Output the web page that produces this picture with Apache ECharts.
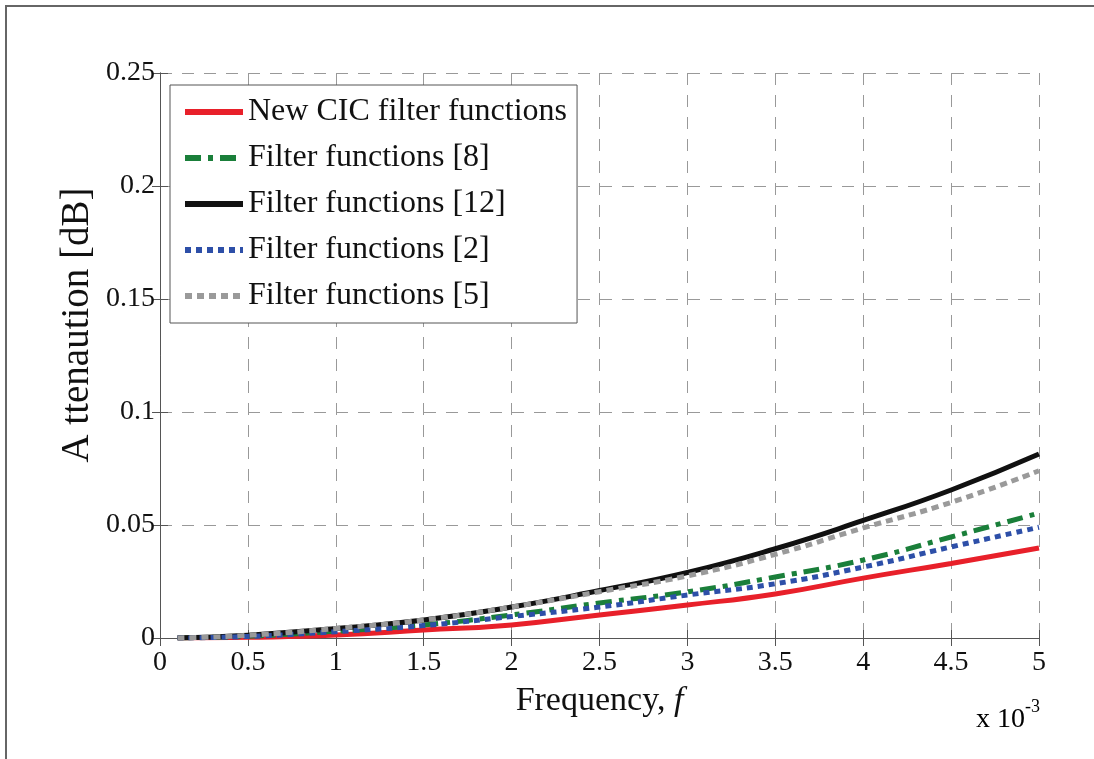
<!DOCTYPE html>
<html>
<head>
<meta charset="utf-8">
<script src="https://cdn.jsdelivr.net/npm/echarts@6/dist/echarts.min.js"></script>
<style>
  html, body { margin: 0; padding: 0; background: #fff; }
  #chart { width: 1094px; height: 759px; }
</style>
</head>
<body>
<div id="chart"></div>
<script>
// frequency in units of 1e-3
var freq = [0.1, 0.5, 1, 1.5, 2, 2.5, 3, 3.5, 4, 4.5, 5];
var newCic = [0, 0.0003, 0.0013, 0.0035, 0.0058, 0.0102, 0.0146, 0.0195, 0.0265, 0.033, 0.0398];
var ref8 = [0, 0.0008, 0.003, 0.0058, 0.0102, 0.0155, 0.0204, 0.027, 0.0345, 0.0447, 0.0553];
var ref12 = [0, 0.0012, 0.0042, 0.008, 0.0137, 0.021, 0.029, 0.0395, 0.052, 0.0655, 0.0814];
var ref2 = [0, 0.0007, 0.0028, 0.0055, 0.0095, 0.0137, 0.019, 0.024, 0.0314, 0.0403, 0.049];
var ref5 = [0, 0.0012, 0.0042, 0.008, 0.0137, 0.0205, 0.0275, 0.037, 0.0487, 0.06, 0.074];

function pairs(ys) {
  return freq.map(function (f, i) { return [f, ys[i]]; });
}

var font = 'Liberation Serif, Times New Roman, serif';
var chart = echarts.init(document.getElementById('chart'));

function mkLine(name, ys, color, dash) {
  return {
    name: name,
    type: 'line',
    data: pairs(ys),
    smooth: true,
    symbol: 'none',
    lineStyle: { color: color, width: 5, type: dash },
    itemStyle: { color: color }
  };
}

chart.setOption({
  animation: false,
  textStyle: { fontFamily: font },
  grid: { left: 160, right: 55, top: 73, bottom: 121 },
  legend: {
    left: 170,
    top: 85,
    orient: 'vertical',
    itemWidth: 58,
    itemHeight: 14,
    itemGap: 14,
    padding: [11, 10, 11, 12],
    borderColor: '#555',
    borderWidth: 1,
    backgroundColor: '#fff',
    itemStyle: { opacity: 0 },
    lineStyle: { width: 6 },
    textStyle: { fontFamily: font, fontSize: 32, color: '#111' },
    data: ['New CIC filter functions', 'Filter functions [8]', 'Filter functions [12]', 'Filter functions [2]', 'Filter functions [5]']
  },
  xAxis: [{
    type: 'value',
    min: 0, max: 5, interval: 0.5,
    name: '{n|Frequency, }{i|f}',
    nameLocation: 'middle',
    nameGap: 46,
    nameTextStyle: {
      rich: {
        n: { fontFamily: font, fontSize: 34, color: '#111' },
        i: { fontFamily: font, fontSize: 34, fontStyle: 'italic', color: '#111' }
      }
    },
    axisLine: { lineStyle: { color: '#555', width: 1 } },
    axisTick: { inside: true, length: 8, lineStyle: { color: '#555' } },
    axisLabel: { fontFamily: font, fontSize: 28, color: '#111', margin: 11 },
    splitLine: { show: true, lineStyle: { color: '#999', type: [12, 10], width: 1 } }
  }, {
    type: 'value',
    position: 'top',
    min: 0, max: 5, interval: 0.5,
    axisLine: { show: true, lineStyle: { color: '#555', width: 1 } },
    axisTick: { show: true, inside: true, length: 8, lineStyle: { color: '#555' } },
    axisLabel: { show: false },
    splitLine: { show: false }
  }],
  yAxis: [{
    type: 'value',
    min: 0, max: 0.25, interval: 0.05,
    axisLine: { show: true, lineStyle: { color: '#555', width: 1 } },
    axisTick: { show: true, inside: true, length: 8, lineStyle: { color: '#555' } },
    axisLabel: { fontFamily: font, fontSize: 28, color: '#111', margin: 5 },
    splitLine: { show: true, lineStyle: { color: '#999', type: [12, 10], width: 1 } }
  }, {
    type: 'value',
    position: 'right',
    min: 0, max: 0.25, interval: 0.05,
    axisLine: { show: true, lineStyle: { color: '#555', width: 1 } },
    axisTick: { show: true, inside: true, length: 8, lineStyle: { color: '#555' } },
    axisLabel: { show: false },
    splitLine: { show: false }
  }],
  graphic: [{
    type: 'polyline',
    shape: { points: [[6, 800], [6, 6], [1200, 6]] },
    style: { stroke: '#666', lineWidth: 2, fill: null },
    silent: true
  }, {
    // y-axis title, sits a bit above the plot's middle as in the source figure
    type: 'text',
    x: 78,
    y: 325,
    rotation: Math.PI / 2,
    style: {
      text: 'A ttenaution [dB]',
      fontFamily: font,
      fontSize: 39,
      fill: '#111',
      align: 'center',
      verticalAlign: 'middle'
    }
  }, {
    type: 'text',
    left: 976,
    top: 698,
    style: {
      text: '{b|x 10}{s|-3}',
      rich: {
        b: { fontFamily: font, fontSize: 28, color: '#111', verticalAlign: 'bottom' },
        s: { fontFamily: font, fontSize: 18, color: '#111', verticalAlign: 'top', padding: [0, 0, 18, 0] }
      }
    }
  }],
  series: [
    mkLine('New CIC filter functions', newCic, '#e8202a', 'solid'),
    mkLine('Filter functions [8]', ref8, '#1a7f3a', [16, 7, 5, 7]),
    mkLine('Filter functions [12]', ref12, '#111111', 'solid'),
    mkLine('Filter functions [2]', ref2, '#2d4fa8', [6, 5]),
    mkLine('Filter functions [5]', ref5, '#9a9a9a', [7, 5])
  ]
});
</script>
</body>
</html>
